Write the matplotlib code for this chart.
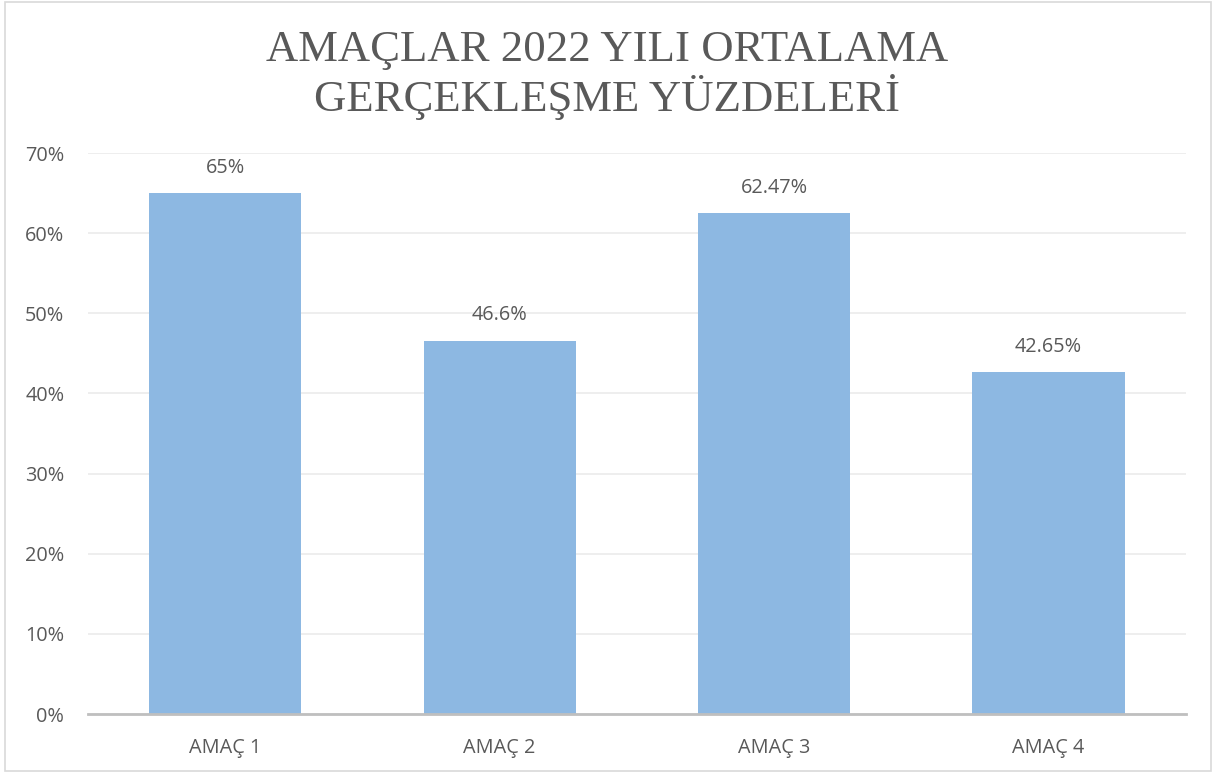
import matplotlib.pyplot as plt
import numpy as np
from matplotlib.patches import Rectangle

categories = ["AMAÇ 1", "AMAÇ 2", "AMAÇ 3", "AMAÇ 4"]
values = [65, 46.6, 62.47, 42.65]
value_labels = ["65%", "46.6%", "62.47%", "42.65%"]
yticks = [0, 10, 20, 30, 40, 50, 60, 70]

text_color = "#595959"
bar_color = "#8DB8E2"

fig = plt.figure(figsize=(12.15, 7.73), dpi=100)
ax = fig.add_axes([0.0724, 0.0763, 0.9036, 0.7257])

x = np.arange(len(categories))
bars = ax.bar(x, values, width=0.555, color=bar_color, zorder=2)

# value labels above bars
for xi, v, lab in zip(x, values, value_labels):
    ax.annotate(lab, (xi, v), xytext=(0, 11), textcoords="offset points",
                ha="center", va="bottom", fontsize=14.3, color=text_color,
                family="Open Sans")

ax.set_xlim(-0.5, 3.5)
ax.set_ylim(0, 70)
ax.set_yticks(yticks)
ax.set_yticklabels([f"{t}%" for t in yticks], family="Open Sans", fontsize=14.3, color=text_color)
ax.set_xticks(x)
ax.set_xticklabels(categories, family="Open Sans", fontsize=14.3, color=text_color)
ax.tick_params(axis="both", length=0)
ax.tick_params(axis="y", pad=17)
ax.tick_params(axis="x", pad=17)

ax.grid(axis="y", color="#EBEBEB", linewidth=1.2, zorder=0)
for side in ["top", "right", "left"]:
    ax.spines[side].set_visible(False)
ax.spines["bottom"].set_color("#BFBFBF")
ax.spines["bottom"].set_linewidth(2)
ax.spines["bottom"].set_zorder(3)

fig.text(0.5, 0.903, "AMAÇLAR 2022 YILI ORTALAMA\nGERÇEKLEŞME YÜZDELERİ",
         ha="center", va="center", fontsize=32.2, color=text_color,
         family="Liberation Serif", linespacing=1.12)

# figure border
fig.patches.append(Rectangle((0.004, 0.002), 0.993, 0.995, transform=fig.transFigure,
                             fill=False, edgecolor="#D9D9D9", linewidth=1.2))

fig.savefig("out.png", dpi=100)
